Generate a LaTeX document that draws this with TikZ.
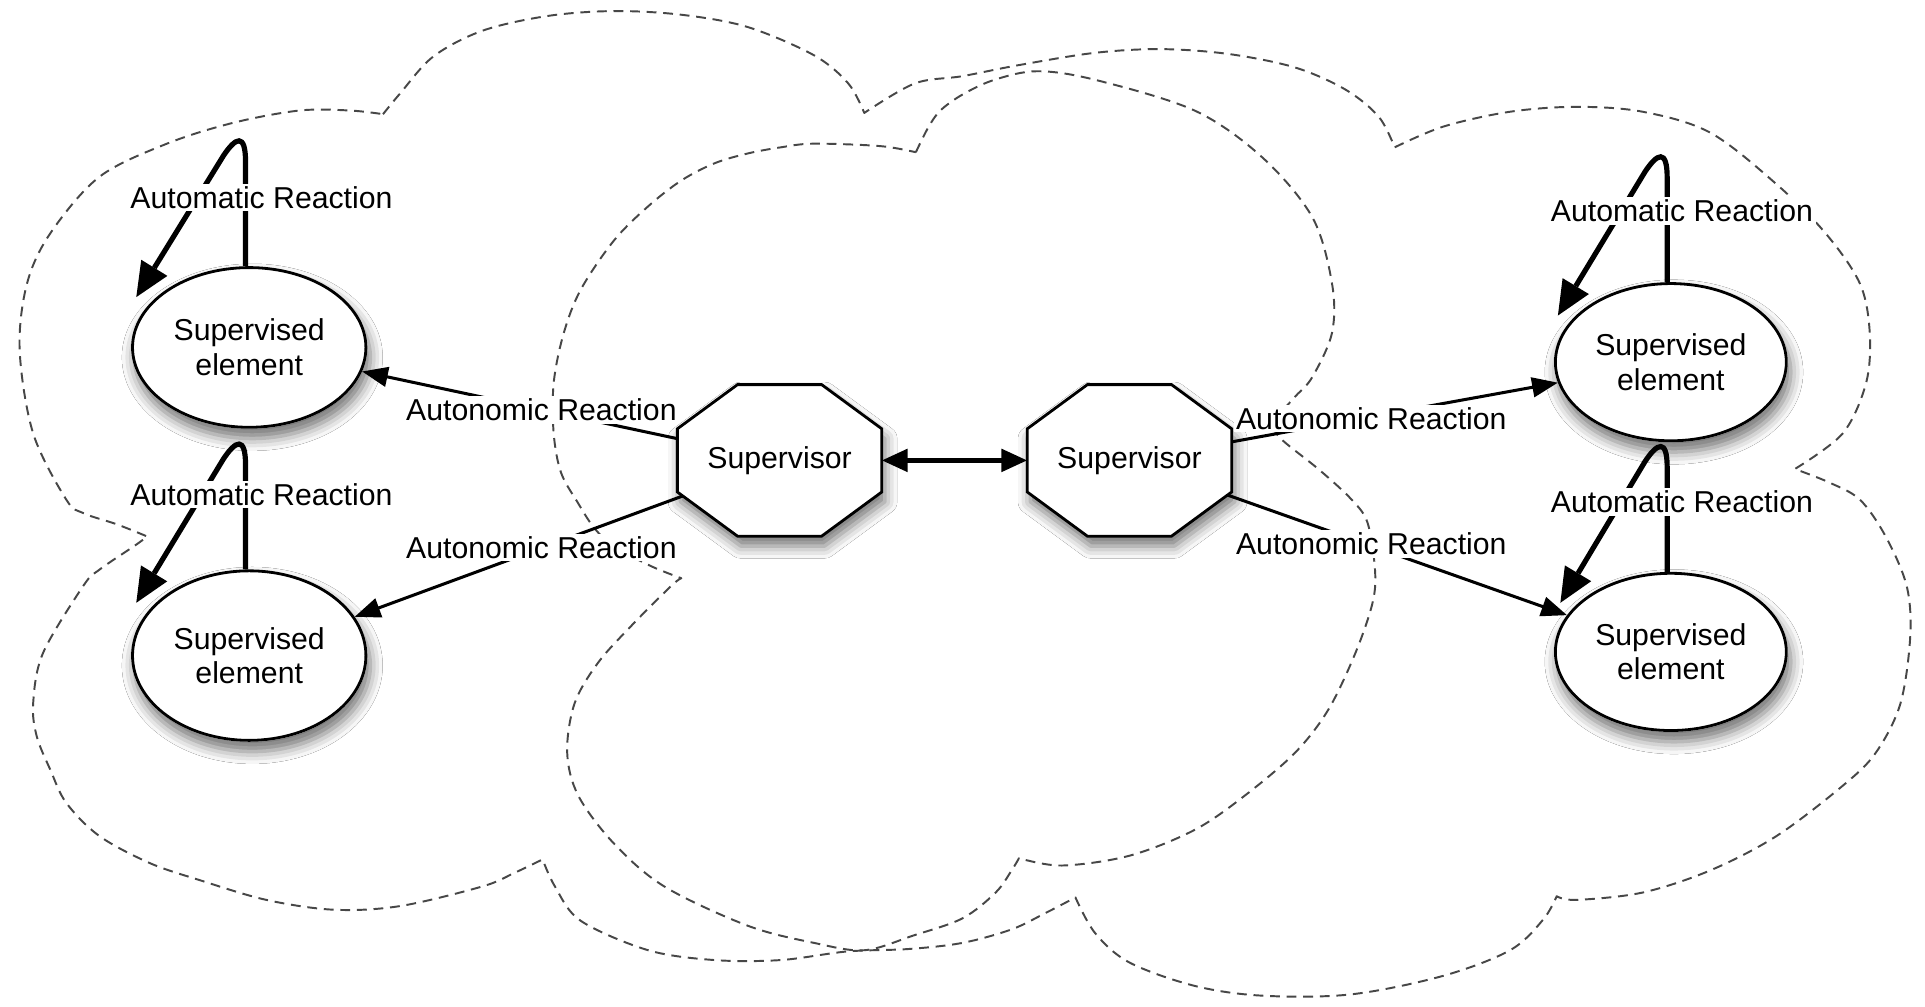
\documentclass[tikz,border=0pt]{standalone}
\usepackage{fontspec}
\setmainfont{Liberation Sans}
\usetikzlibrary{shapes.geometric,arrows.meta,calc,shadows.blur}
\pgfdeclarelayer{back}
\pgfdeclarelayer{shade}
\pgfdeclarelayer{links}
\pgfdeclarelayer{plates}
\pgfsetlayers{back,shade,links,plates,main}
\newcommand\lblfont{\fontsize{7pt}{8pt}\selectfont}
\begin{document}
\begin{tikzpicture}[x=0.01cm,y=-0.01cm,
  cloudline/.style={draw=black!72, line width=0.45pt, dash pattern=on 0.8mm off 0.55mm, line join=round},
  softshadow/.style={blur shadow={shadow xshift=0.25mm, shadow yshift=-0.8mm, shadow blur radius=1mm, shadow opacity=55}},
  elem/.style={ellipse, draw, line width=0.65pt, fill=white, inner sep=0pt,
     minimum width=1.9cm, minimum height=1.3cm, align=center, font=\lblfont},
  supbox/.style={rectangle, inner sep=0pt, minimum width=1.65cm, minimum height=1.22cm, font=\lblfont},
  plate/.style={draw, line width=0.65pt, fill=white, line join=miter},
  lbl/.style={fill=white, inner sep=0.6pt, font=\lblfont},
  solidlink/.style={draw=black, fill opacity=1, draw opacity=1, line join=miter},
  autolink/.style={solidlink, line width=0.7pt, -{Triangle[length=2.1mm,width=1.6mm,fill=black]}},
  looplink/.style={solidlink, line width=1.2pt, -{Triangle[length=2.8mm,width=2.5mm,fill=black,line width=0pt]}},
  peerlink/.style={solidlink, line width=1.1pt, {Triangle[length=2.1mm,width=1.8mm,fill=black]}-{Triangle[length=2.1mm,width=1.8mm,fill=black]}},
]
\useasboundingbox (0,0) rectangle (1568,820);

% ---------- nodes ----------
\node[elem] (e1) at (203,283) {Supervised\\element};
\node[elem, minimum height=1.38cm] (e2) at (203,534) {Supervised\\element};
\node[elem, minimum width=1.88cm, minimum height=1.28cm] (e3) at (1361,295) {Supervised\\element};
\node[elem, minimum width=1.88cm, minimum height=1.28cm] (e4) at (1361,531) {Supervised\\element};
\node[supbox] (s1) at (635,375) {Supervisor};
\node[supbox] (s2) at (920,375) {Supervisor};

\node[lbl] (a1) at (213,161) {Automatic Reaction};
\node[lbl] (a2) at (213,403) {Automatic Reaction};
\node[lbl] (a3) at (1370,172) {Automatic Reaction};
\node[lbl] (a4) at (1370,409) {Automatic Reaction};
\node[lbl] (r1) at (441,334) {Autonomic Reaction};
\node[lbl] (r2) at (441,446) {Autonomic Reaction};
\node[lbl] (r3) at (1117,341) {Autonomic Reaction};
\node[lbl] (r4) at (1117,443) {Autonomic Reaction};

% free ends of the self loops
\coordinate (t1) at ($(e1.center)+(-92,-41)$);
\coordinate (t2) at ($(e2.center)+(-92,-43)$);
\coordinate (t3) at ($(e3.center)+(-92,-38)$);
\coordinate (t4) at ($(e4.center)+(-90,-40)$);

% ---------- soft shadows under the shapes ----------
\begin{pgfonlayer}{shade}
\begin{scope}
\foreach \e in {e1,e2,e3,e4}{
  \path let \p1=($(\e.east)-(\e.center)$), \p2=($(\e.north)-(\e.center)$) in
    [fill=white, softshadow] (\e.center) ellipse [x radius=\x1, y radius=\y2];
}
\foreach \s in {s1,s2}{
  \path[fill=white, softshadow] ($(\s.north west)+(49,0)$) -- ($(\s.north east)+(-49,0)$)
    -- ($(\s.north east)+(0,36)$) -- ($(\s.south east)+(0,-36)$)
    -- ($(\s.south east)+(-49,0)$) -- ($(\s.south west)+(49,0)$)
    -- ($(\s.south west)+(0,-36)$) -- ($(\s.north west)+(0,36)$) -- cycle;
}
\end{scope}
\end{pgfonlayer}

% ---------- octagonal supervisors ----------
\begin{pgfonlayer}{plates}
\foreach \s in {s1,s2}{
  \draw[plate] ($(\s.north west)+(49,0)$) -- ($(\s.north east)+(-49,0)$)
    -- ($(\s.north east)+(0,36)$) -- ($(\s.south east)+(0,-36)$)
    -- ($(\s.south east)+(-49,0)$) -- ($(\s.south west)+(49,0)$)
    -- ($(\s.south west)+(0,-36)$) -- ($(\s.north west)+(0,36)$) -- cycle;
}
\end{pgfonlayer}

% ---------- connectors ----------
\begin{pgfonlayer}{links}
\draw[autolink, shorten <=-1.5mm] (s1) -- (e1);
\draw[autolink, shorten <=-1.5mm] (s1) -- (e2);
\draw[autolink, shorten <=-1.5mm] (s2) -- (e3);
\draw[autolink, shorten <=-1.5mm] (s2) -- (e4);
\draw[peerlink] (s1.east) -- (s2.west);
\foreach \e/\t in {e1/t1,e2/t2,e3/t3,e4/t4}{
  \draw[looplink] ($(\e.north)+(-3,0)$) -- ++(0,-85)
    .. controls +(0,-24) and +(10,-15) .. ++(-18,-5) -- (\t);
}
\end{pgfonlayer}

% ---------- dashed domains ----------
\begin{pgfonlayer}{back}
\fill[white] (0,0) rectangle (1568,820);
% outer domain
\draw[cloudline]
  plot[smooth,tension=0.55] coordinates {(312,93) (326,76) (353,46) (393,25) (446,13) (500,9) (555,12) (609,22) (663,45) (691,68) (704,92)}
  -- plot[smooth,tension=0.55] coordinates {(704,92) (745,68) (784,62) (830,53) (892,43) (946,40) (1001,44) (1055,55) (1096,73) (1123,95) (1136,120)}
  -- plot[smooth,tension=0.55] coordinates {(1136,120) (1176,103) (1230,91) (1284,87) (1338,91) (1393,108) (1447,150) (1487,190) (1515,231) (1523,271) (1520,312) (1501,353) (1462,382)}
  -- plot[smooth,tension=0.55] coordinates {(1462,382) (1490,393) (1515,407) (1536,437) (1553,477) (1556,518) (1548,573) (1528,613) (1501,640) (1447,681) (1393,709) (1338,727) (1284,733) (1268,730)}
  -- plot[smooth,tension=0.55] coordinates {(1268,730) (1257,749) (1230,774) (1175,795) (1100,810) (1028,811) (973,803) (920,784) (892,760) (876,731)}
  -- plot[smooth,tension=0.55] coordinates {(876,731) (851,744) (824,757) (784,768) (740,773) (690,775) (636,782) (582,782) (528,774) (473,750) (452,722) (442,700)}
  -- plot[smooth,tension=0.55] coordinates {(442,700) (419,711) (393,722) (326,738) (272,741) (217,733) (163,717) (122,703) (81,681) (54,654) (41,627) (30,600) (27,573) (35,532) (68,477) (81,464) (109,445) (120,437)}
  -- plot[smooth,tension=0.55] coordinates {(120,437) (95,427) (68,418) (54,407) (27,353) (16,285) (22,231) (41,190) (81,144) (136,117) (190,100) (244,90) (285,90) (312,93)}
  -- cycle;
% middle domain
\draw[cloudline]
  plot[smooth,tension=0.55] coordinates {(746,124) (756,104) (766,90) (784,77) (810,65) (845,58) (892,65) (973,90) (1028,128) (1069,177) (1085,231) (1085,271) (1069,307) (1055,323) (1035,345)}
  -- plot[smooth,tension=0.55] coordinates {(1035,345) (1044,358) (1075,383) (1101,407) (1114,426) (1120,464) (1118,491) (1104,532) (1082,578) (1055,613) (1014,648) (973,676) (920,697) (865,705) (830,699)}
  -- plot[smooth,tension=0.55] coordinates {(830,699) (824,709) (811,727) (784,748) (744,762) (704,774) (663,768) (609,754) (541,722) (500,687) (471,648) (462,613) (468,573) (487,540) (514,510) (547,477) (555,471)}
  -- plot[smooth,tension=0.55] coordinates {(555,471) (530,461) (500,445) (484,430) (471,410) (457,385) (451,353) (451,312) (459,272) (473,236) (500,196) (528,168) (555,147) (582,133) (609,125) (636,120) (663,117) (717,119) (746,124)}
  -- cycle;
\end{pgfonlayer}
\end{tikzpicture}
\end{document}
